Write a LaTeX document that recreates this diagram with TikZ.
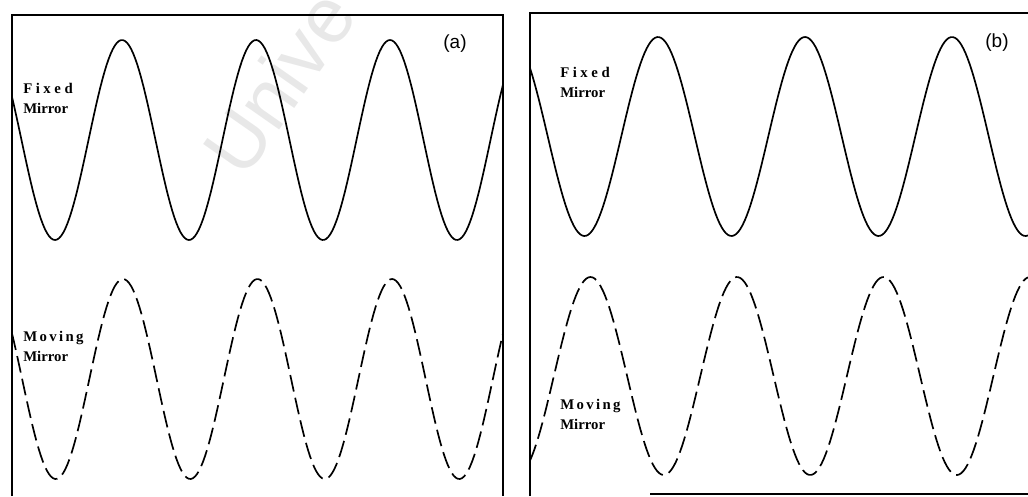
\documentclass[tikz,border=0pt]{standalone}
\usepackage{fontspec}
\setmainfont{Liberation Serif}
\newfontfamily\tagfont{Liberation Sans}
\newcommand{\spread}[2]{{\addfontfeature{LetterSpace=#1}#2}}

\begin{document}
\begin{tikzpicture}[
  x=0.025cm, y=-0.025cm,
  frame/.style={line width=0.9pt},
  wave/.style={line width=1.2pt, line join=round},
  movewave/.style={wave, dash pattern=on 12pt off 4.5pt},
  mirrorlabel/.style={font=\bfseries\fontsize{10.5}{14.5}\selectfont, align=left, anchor=north west, inner sep=0pt},
  paneltag/.style={font=\tagfont\fontsize{13.5}{15}\selectfont, inner sep=0pt}
]
  \useasboundingbox (0,0) rectangle (1028,496);
  \clip (0,0) rectangle (1028,496);

  \node (mark) [rotate=55, anchor=base west, text=black!9, inner sep=0pt,
    font=\tagfont\fontsize{56}{56}\selectfont] at (244,181) {Unive};

  \draw[frame] (12,496) -- (12,15) -- (503,15) -- (503,496);
  \draw[frame] (530,496) -- (530,13) -- (1028,13);
  \draw[frame] (650,494) -- (1028,494);

  \draw[wave] plot[domain=12:503, samples=240] (\x, {140-100*cos((\x-122)/134*360)});
  \draw[movewave] plot[domain=12:503, samples=240] (\x, {379-100*cos((\x-123)/134.5*360)});
  \draw[wave] plot[domain=530:1028, samples=240] (\x, {136.5-99.5*cos((\x-658)/147*360)});
  \draw[movewave] plot[domain=530:1028, samples=240] (\x, {376-99*cos((\x-590.5)/146.5*360)});

  \node (tagA) [paneltag] at (455,44) {(a)};
  \node (tagB) [paneltag] at (997,43) {(b)};

  \node (fixA) [mirrorlabel] at (23,83) {\spread{24}{Fixed}\\Mirror};
  \node (movA) [mirrorlabel] at (23,331) {\spread{16}{Moving}\\Mirror};
  \node (fixB) [mirrorlabel] at (560,67) {\spread{24}{Fixed}\\Mirror};
  \node (movB) [mirrorlabel] at (560,399) {\spread{16}{Moving}\\Mirror};
\end{tikzpicture}
\end{document}
